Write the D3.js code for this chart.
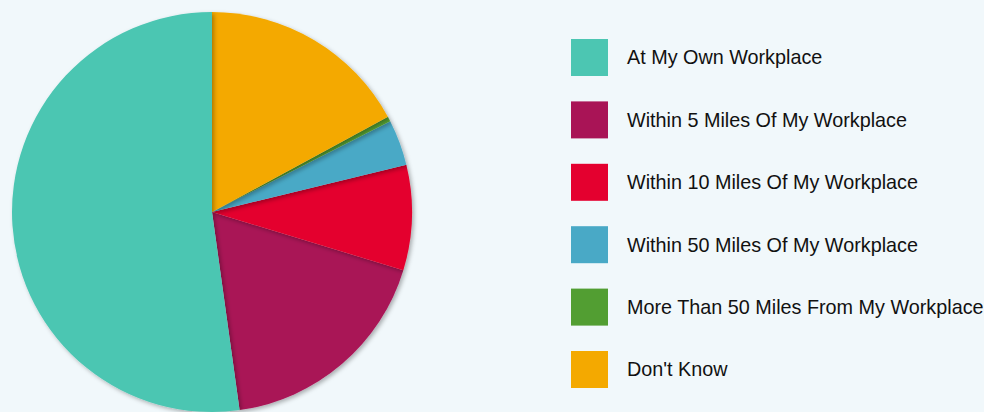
<!DOCTYPE html>
<html lang="en">
<head>
    <meta charset="UTF-8">
    <title>Workplace Distance</title>
    <style>
        html, body {
            margin: 0;
            padding: 0;
            background: #f1f8fb;
            overflow: hidden;
        }
        svg {
            display: block;
        }
        .legend text {
            fill: #111;
            font-family: Arial, "Liberation Sans", Helvetica, sans-serif;
            font-size: 19.8px;
        }
    </style>
</head>
<body>
    <script src="https://d3js.org/d3.v7.min.js"></script>
    <script>
        const categories = [
            "At My Own Workplace",
            "Within 5 Miles Of My Workplace",
            "Within 10 Miles Of My Workplace",
            "Within 50 Miles Of My Workplace",
            "More Than 50 Miles From My Workplace",
            "Don't Know"
        ];
        const values = [52.2, 18.1, 8.5, 3.7, 0.4, 17.1];
        const colors = ["#4cc6b2", "#a91456", "#e4002f", "#49a9c6", "#529e32", "#f4a900"];

        const width = 984, height = 412;
        const radius = 200;
        const cx = 212, cy = 212;

        const svg = d3.select("body").append("svg")
            .attr("width", width)
            .attr("height", height);

        // soft drop shadow on each slice
        const filter = svg.append("defs").append("filter")
            .attr("id", "shadow")
            .attr("x", "-20%").attr("y", "-20%")
            .attr("width", "140%").attr("height", "140%");
        filter.append("feDropShadow")
            .attr("dx", 2)
            .attr("dy", 2)
            .attr("stdDeviation", 2)
            .attr("flood-color", "#000")
            .attr("flood-opacity", 0.3);

        const color = d3.scaleOrdinal().domain(categories).range(colors);

        // slices run counter-clockwise from 12 o'clock
        const pie = d3.pie()
            .sort(null)
            .value(d => d.value)
            .startAngle(0)
            .endAngle(-2 * Math.PI);

        const arc = d3.arc().innerRadius(0).outerRadius(radius);

        const data = categories.map((c, i) => ({ name: c, value: values[i] }));
        const arcs = pie(data);

        // the first slice goes on top so its shadow falls on the last one
        const drawOrder = arcs.slice(1).concat(arcs.slice(0, 1));

        const g = svg.append("g")
            .attr("transform", `translate(${cx},${cy})`);

        g.selectAll("path")
            .data(drawOrder)
            .enter().append("path")
            .attr("d", arc)
            .attr("fill", d => color(d.data.name))
            .attr("filter", "url(#shadow)");

        // legend
        const legendX = 571, legendY = 39, rowStep = 62.4, box = 37;

        const legend = svg.append("g")
            .attr("class", "legend")
            .attr("transform", `translate(${legendX},${legendY})`);

        const item = legend.selectAll("g")
            .data(categories)
            .enter().append("g")
            .attr("transform", (d, i) => `translate(0,${i * rowStep})`);

        item.append("rect")
            .attr("width", box)
            .attr("height", box)
            .attr("fill", d => color(d));

        item.append("text")
            .attr("x", 56)
            .attr("y", box / 2)
            .attr("dy", "0.35em")
            .text(d => d);
    </script>
</body>
</html>
